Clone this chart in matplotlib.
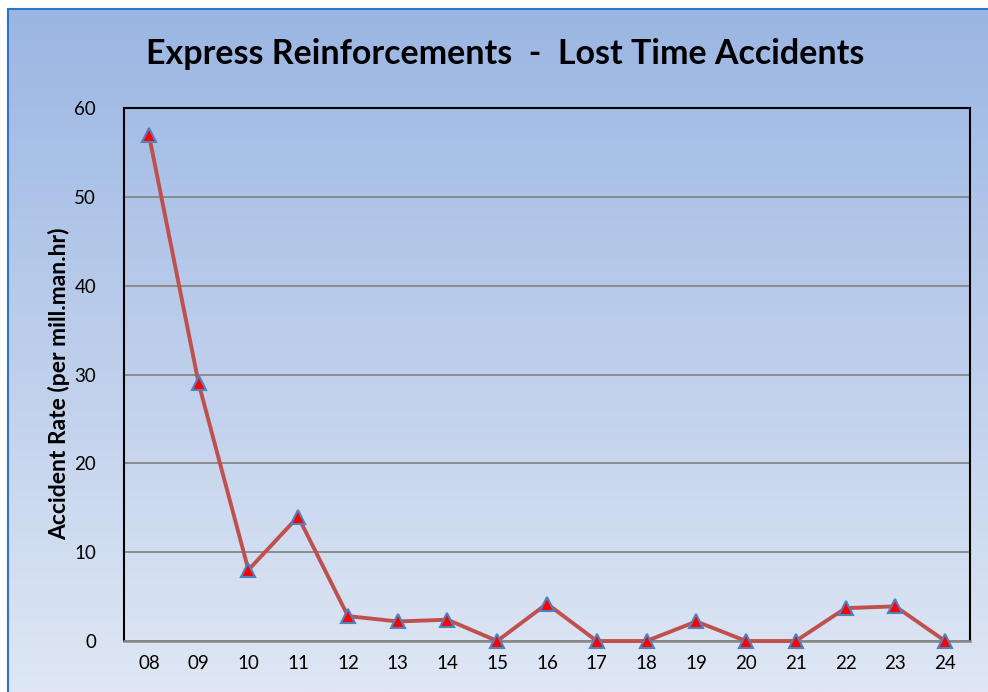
import numpy as np
import matplotlib
matplotlib.use('Agg')
import matplotlib.pyplot as plt
from matplotlib.colors import LinearSegmentedColormap
from matplotlib.patches import Rectangle

plt.rcParams['font.family'] = ['Lato', 'DejaVu Sans']

years = ['08', '09', '10', '11', '12', '13', '14', '15', '16',
         '17', '18', '19', '20', '21', '22', '23', '24']
rates = [57, 29, 8, 14, 2.8, 2.2, 2.4, 0, 4.2,
         0, 0, 2.2, 0, 0, 3.7, 3.9, 0]
y_ticks = [0, 10, 20, 30, 40, 50, 60]

W, H = 988, 692
fig = plt.figure(figsize=(W / 100, H / 100), dpi=100)
fig.patch.set_facecolor('white')

# background gradient (chart area inside the blue frame)
bg = fig.add_axes([8 / W, 0, 1 - 8 / W, 1 - 9 / H], zorder=0)
grad = LinearSegmentedColormap.from_list('bg', ['#dfe7f4', '#9bb6e3'])
bg.imshow(np.linspace(0, 1, 256)[:, None], aspect='auto', cmap=grad,
          origin='lower', extent=[0, 1, 0, 1])
bg.set_axis_off()
fig.patches.append(Rectangle((8 / W, -0.01), 1.02, 1 - 9 / H + 0.01,
                             transform=fig.transFigure, fill=False,
                             edgecolor='#2e75c6', linewidth=1.5, zorder=5))

left, right, top, bottom = 124, 970, 108, 641
ax = fig.add_axes([left / W, 1 - bottom / H, (right - left) / W, (bottom - top) / H],
                  zorder=2)
ax.patch.set_alpha(0)

x = np.arange(len(years))
ax.plot(x, rates, color='#c0504d', linewidth=2.8, marker='^', markersize=10,
        markerfacecolor='red', markeredgecolor='#4f81bd', markeredgewidth=1.5,
        zorder=4, clip_on=False)

ax.set_xlim(-0.5, len(years) - 0.5)
ax.set_ylim(0, 60)
ax.set_yticks(y_ticks)
ax.set_xticks(x)
ax.set_xticklabels(years)
ax.tick_params(axis='both', length=0, labelsize=13.5, colors='black')
ax.tick_params(axis='x', pad=10)
ax.tick_params(axis='y', pad=20)
ax.grid(axis='y', color='#868686', linewidth=1.3)
ax.set_axisbelow(True)
for s in ['top', 'right', 'left']:
    ax.spines[s].set_color('black')
    ax.spines[s].set_linewidth(1.5)
ax.spines['bottom'].set_color('#868686')
ax.spines['bottom'].set_linewidth(1.8)

ax.set_ylabel('Accident Rate (per mill.man.hr)', fontsize=16.5, fontweight='bold')
ax.yaxis.set_label_coords((70 - left) / (right - left), (bottom - 384) / (bottom - top))
fig.text(505 / W, 1 - 54 / H, 'Express Reinforcements  -  Lost Time Accidents',
         ha='center', va='center', fontsize=24.5, fontweight='bold', zorder=6)

fig.savefig('out.png', dpi=100)
